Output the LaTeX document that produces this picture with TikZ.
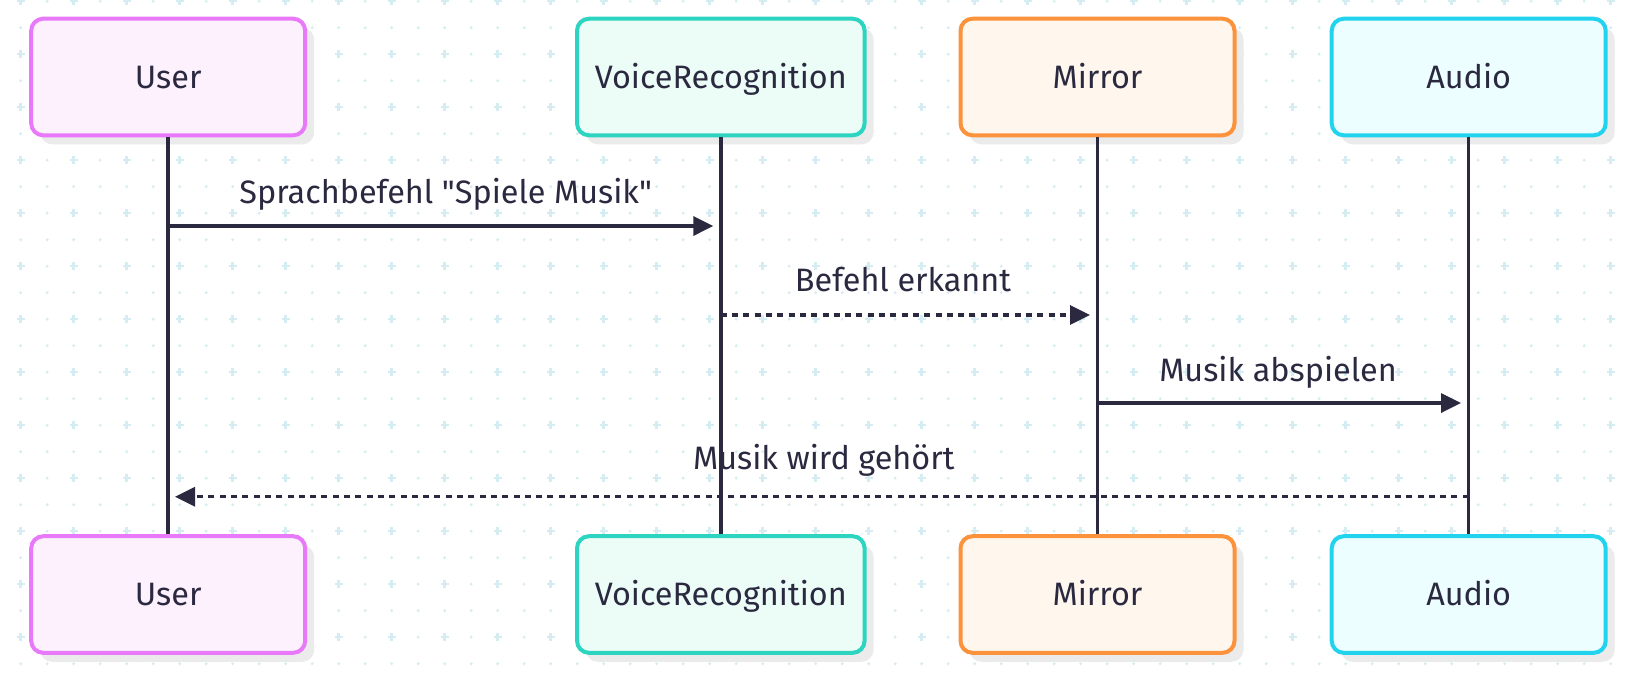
\documentclass[tikz,border=0pt]{standalone}
\usepackage{fontspec}
\setmainfont{Fira Sans}[Ligatures=TeXOff]
\usetikzlibrary{arrows.meta,shadows}
\definecolor{ink}{HTML}{2A2940}
\definecolor{gridc}{HTML}{D5ECF2}
\definecolor{shadowc}{HTML}{EBEBEB}
\definecolor{userb}{HTML}{E879F9}
\definecolor{userf}{HTML}{FDF1FE}
\definecolor{vrb}{HTML}{2DD4BF}
\definecolor{vrf}{HTML}{ECFDF8}
\definecolor{mirb}{HTML}{FB923C}
\definecolor{mirf}{HTML}{FFF7ED}
\definecolor{audb}{HTML}{22D3EE}
\definecolor{audf}{HTML}{ECFEFF}
\begin{document}
\begin{tikzpicture}[x=0.5pt,y=-0.5pt,
  txt/.style={text=ink, font=\fontsize{16.2}{19}\selectfont},
  actor/.style={txt, draw, rounded corners=6pt, line width=2pt, minimum width=137pt,
    minimum height=58.3pt, inner sep=0pt, text height=11.2pt, text depth=-0.9pt,
    drop shadow={shadow xshift=4.5pt, shadow yshift=-4.5pt, fill=shadowc, opacity=1}},
  wideactor/.style={actor, minimum width=143.8pt},
  userbox/.style={actor, draw=userb, fill=userf},
  vrbox/.style={wideactor, draw=vrb, fill=vrf},
  mirbox/.style={actor, draw=mirb, fill=mirf},
  audbox/.style={actor, draw=audb, fill=audf},
  life/.style={draw=ink, line width=1.75pt},
  msg/.style={draw=ink, line width=1.7pt, -{Triangle[length=10pt,width=9.5pt]}},
  dmsg/.style={msg, line width=1.6pt, dash pattern=on 3pt off 2.65pt},
  lbl/.style={txt, anchor=base, inner sep=0pt}
]
\useasboundingbox (0,0) rectangle (1633,682);
\fill[white] (0,0) rectangle (1633,682);
% background grid
\foreach \i in {0,2,...,60}{\foreach \j in {0,2,...,24}{
  \pgfmathsetmacro\gx{20.7+26.5*\i}\pgfmathsetmacro\gy{1.15+26.5*\j}
  \fill[gridc] (\gx-4,\gy-1.3) rectangle (\gx+4,\gy+1.3);
  \fill[gridc] (\gx-1.3,\gy-4) rectangle (\gx+1.3,\gy+4);
}}
\foreach \i in {1,3,...,59}{\foreach \j in {0,...,25}{
  \pgfmathsetmacro\gx{20.7+26.5*\i}\pgfmathsetmacro\gy{1.15+26.5*\j}
  \fill[gridc] (\gx,\gy) circle[radius=1.6];
}}
\foreach \i in {0,2,...,60}{\foreach \j in {1,3,...,25}{
  \pgfmathsetmacro\gx{20.7+26.5*\i}\pgfmathsetmacro\gy{1.15+26.5*\j}
  \fill[gridc] (\gx,\gy) circle[radius=1.6];
}}
% message labels
\node[lbl] (l1) at (445.7,203.3) {Sprachbefehl "Spiele Musik"};
\node[lbl] (l2) at (903,291.9) {Befehl erkannt};
\node[lbl] (l3) at (1278,381.5) {Musik abspielen};
\node[lbl] (l4) at (823.8,469.5) {Musik wird gehört};
% message end points
\coordinate (m1a) at (168.2,226);   \coordinate (m1b) at (713.3,226);
\coordinate (m2a) at (720.8,315);   \coordinate (m2b) at (1090,315);
\coordinate (m3a) at (1097.5,403);  \coordinate (m3b) at (1461,403);
\coordinate (m4a) at (1468.7,496.7);\coordinate (m4b) at (175,496.7);
\draw[msg] (m1a) -- (m1b);
\draw[dmsg] (m2a) -- (m2b);
\draw[msg] (m3a) -- (m3b);
\draw[dmsg] (m4a) -- (m4b);
% actors
\node[userbox] (u1) at (168.2,77) {User};
\node[vrbox]   (v1) at (720.8,77) {VoiceRecognition};
\node[mirbox]  (r1) at (1097.5,77) {Mirror};
\node[audbox]  (a1) at (1468.7,77) {Audio};
\node[userbox] (u2) at (168.2,594.5) {User};
\node[vrbox]   (v2) at (720.8,594.5) {VoiceRecognition};
\node[mirbox]  (r2) at (1097.5,594.5) {Mirror};
\node[audbox]  (a2) at (1468.7,594.5) {Audio};
% lifelines
\draw[life] (u1.south) -- (u2.north);
\draw[life] (v1.south) -- (v2.north);
\draw[life] (r1.south) -- (r2.north);
\draw[life] (a1.south) -- (a2.north);
\end{tikzpicture}
\end{document}
